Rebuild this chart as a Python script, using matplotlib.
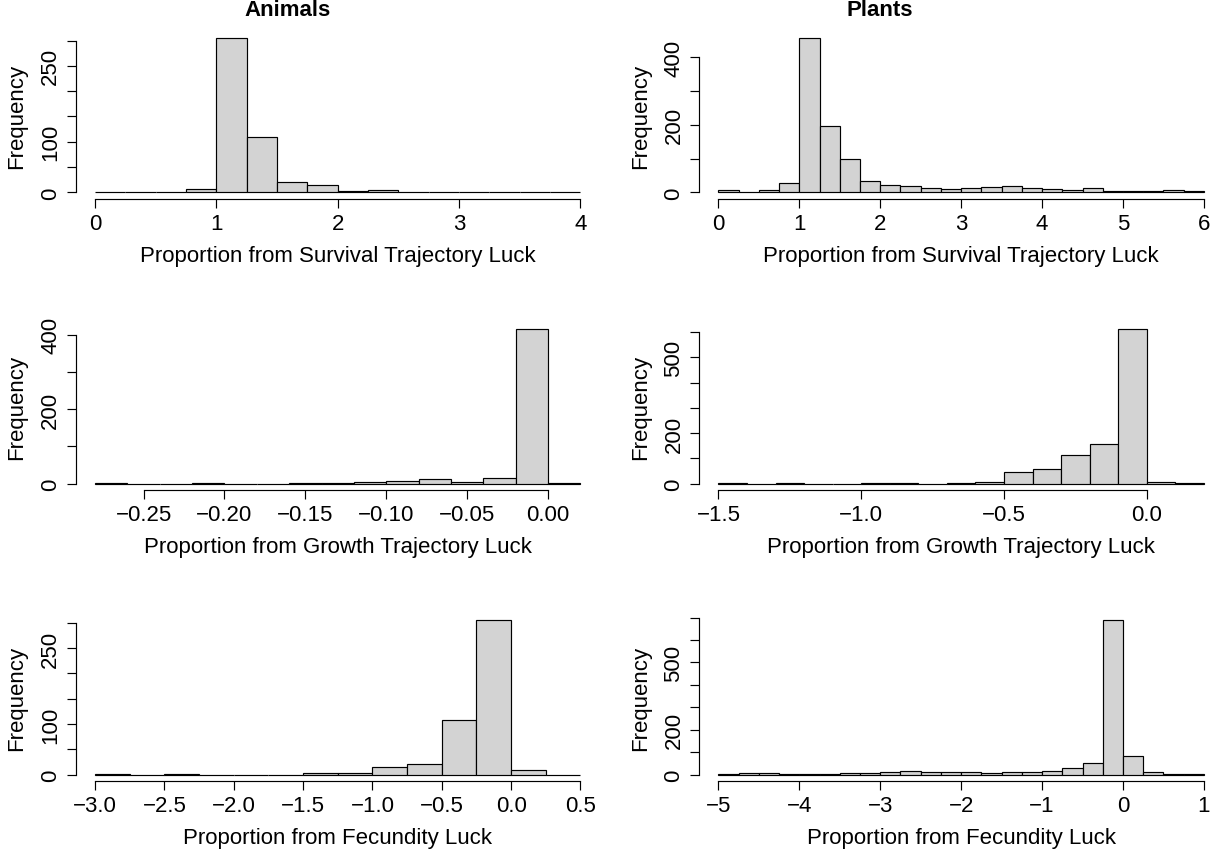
import numpy as np
import matplotlib
matplotlib.use("Agg")
import matplotlib.pyplot as plt

plt.rcParams['font.family'] = ['Liberation Sans', 'DejaVu Sans']
plt.rcParams['axes.unicode_minus'] = True

# ---------------- data (bin counts) ----------------
animals_survival_edges = np.arange(0.0, 4.0001, 0.25)
animals_survival_counts = [0, 0, 0, 6, 305, 109, 20, 15, 3, 4, 0, 0, 0, 1, 0, 1]

plants_survival_edges = np.arange(0.0, 6.0001, 0.25)
plants_survival_counts = [6, 0, 7, 28, 456, 195, 99, 33, 23, 20, 14, 9,
                          14, 15, 18, 12, 10, 6, 12, 4, 5, 5, 7, 5]

animals_growth_edges = np.arange(-0.28, 0.0201, 0.02)
animals_growth_counts = [1, 0, 0, 1, 0, 0, 1, 1, 3, 7, 11, 5, 16, 415, 1]

plants_growth_edges = np.arange(-1.5, 0.2001, 0.1)
plants_growth_counts = [1, 0, 1, 0, 0, 1, 1, 0, 1, 7, 44, 58, 112, 155, 611, 5, 1]

animals_fec_edges = np.arange(-3.0, 0.5001, 0.25)
animals_fec_counts = [1, 0, 1, 0, 0, 0, 4, 3, 14, 20, 107, 305, 8, 0]

plants_fec_edges = np.arange(-5.0, 1.0001, 0.25)
plants_fec_counts = [4, 6, 6, 4, 4, 4, 9, 6, 13, 16, 13, 13, 10, 7, 13, 12,
                     15, 27, 53, 688, 83, 12, 3, 4]

# tick specs
animals_survival_xticks = [0, 1, 2, 3, 4]
animals_survival_xlabels = ["0", "1", "2", "3", "4"]
animals_survival_yticks = [0, 50, 100, 150, 200, 250, 300]
animals_survival_ylabels = ["0", "", "100", "", "", "250", ""]

plants_survival_xticks = [0, 1, 2, 3, 4, 5, 6]
plants_survival_xlabels = ["0", "1", "2", "3", "4", "5", "6"]
plants_survival_yticks = [0, 100, 200, 300, 400]
plants_survival_ylabels = ["0", "", "200", "", "400"]

animals_growth_xticks = [-0.25, -0.20, -0.15, -0.10, -0.05, 0.0]
animals_growth_xlabels = ["\u22120.25", "\u22120.20", "\u22120.15", "\u22120.10", "\u22120.05", "0.00"]
animals_growth_yticks = [0, 100, 200, 300, 400]
animals_growth_ylabels = ["0", "", "200", "", "400"]

plants_growth_xticks = [-1.5, -1.0, -0.5, 0.0]
plants_growth_xlabels = ["\u22121.5", "\u22121.0", "\u22120.5", "0.0"]
plants_growth_yticks = [0, 100, 200, 300, 400, 500, 600]
plants_growth_ylabels = ["0", "", "200", "", "", "500", ""]

animals_fec_xticks = [-3.0, -2.5, -2.0, -1.5, -1.0, -0.5, 0.0, 0.5]
animals_fec_xlabels = ["\u22123.0", "\u22122.5", "\u22122.0", "\u22121.5", "\u22121.0", "\u22120.5", "0.0", "0.5"]
animals_fec_yticks = [0, 50, 100, 150, 200, 250, 300]
animals_fec_ylabels = ["0", "", "100", "", "", "250", ""]

plants_fec_xticks = [-5, -4, -3, -2, -1, 0, 1]
plants_fec_xlabels = ["\u22125", "\u22124", "\u22123", "\u22122", "\u22121", "0", "1"]
plants_fec_yticks = [0, 100, 200, 300, 400, 500, 600, 700]
plants_fec_ylabels = ["0", "", "200", "", "", "500", "", ""]

panels = [
    (animals_survival_edges, animals_survival_counts, animals_survival_xticks, animals_survival_xlabels,
     animals_survival_yticks, animals_survival_ylabels, "Proportion from Survival Trajectory Luck"),
    (plants_survival_edges, plants_survival_counts, plants_survival_xticks, plants_survival_xlabels,
     plants_survival_yticks, plants_survival_ylabels, "Proportion from Survival Trajectory Luck"),
    (animals_growth_edges, animals_growth_counts, animals_growth_xticks, animals_growth_xlabels,
     animals_growth_yticks, animals_growth_ylabels, "Proportion from Growth Trajectory Luck"),
    (plants_growth_edges, plants_growth_counts, plants_growth_xticks, plants_growth_xlabels,
     plants_growth_yticks, plants_growth_ylabels, "Proportion from Growth Trajectory Luck"),
    (animals_fec_edges, animals_fec_counts, animals_fec_xticks, animals_fec_xlabels,
     animals_fec_yticks, animals_fec_ylabels, "Proportion from Fecundity Luck"),
    (plants_fec_edges, plants_fec_counts, plants_fec_xticks, plants_fec_xlabels,
     plants_fec_yticks, plants_fec_ylabels, "Proportion from Fecundity Luck"),
]

W, H = 1217, 853
fig = plt.figure(figsize=(W / 100, H / 100), dpi=100)

col_left = [75.6, 699.0]
col_width = 524.3
row_bottom = [199.5, 490.7, 781.7]
row_height = 166.6

FS = 16
for i, (edges, counts, xt, xl, yt, yl, xlab) in enumerate(panels):
    r, c = divmod(i, 2)
    ax = fig.add_axes([col_left[c] / W, 1 - row_bottom[r] / H, col_width / W, row_height / H])
    edges = np.asarray(edges)
    counts = np.asarray(counts, dtype=float)
    ax.bar(edges[:-1], counts, width=np.diff(edges), align='edge',
           color='#D3D3D3', edgecolor='black', linewidth=0.85)
    x0, x1 = edges[0], edges[-1]
    dx = 0.04 * (x1 - x0)
    ax.set_xlim(x0 - dx, x1 + dx)
    ymax = counts.max()
    ax.set_ylim(-0.04 * ymax, ymax * 1.04)
    for s in ['top', 'right']:
        ax.spines[s].set_visible(False)
    ax.spines['bottom'].set_bounds(xt[0], xt[-1])
    ax.spines['left'].set_bounds(yt[0], yt[-1])
    ax.spines['bottom'].set_linewidth(0.85)
    ax.spines['left'].set_linewidth(0.85)
    ax.set_xticks(xt)
    ax.set_xticklabels(xl)
    ax.set_yticks(yt)
    ax.set_yticklabels(yl, rotation=90, va='center')
    ax.tick_params(axis='both', length=6.5, width=0.85, labelsize=FS, pad=4)
    ax.set_xlabel(xlab, fontsize=FS, labelpad=8)
    ax.set_ylabel("Frequency", fontsize=FS, labelpad=9)
    ax.patch.set_visible(False)

fig.text(288 / W, 1 - 10 / H, "Animals", ha='center', va='center', fontsize=FS, fontweight='bold')
fig.text(880 / W, 1 - 10 / H, "Plants", ha='center', va='center', fontsize=FS, fontweight='bold')

fig.savefig("out.png", dpi=100, facecolor='white')
